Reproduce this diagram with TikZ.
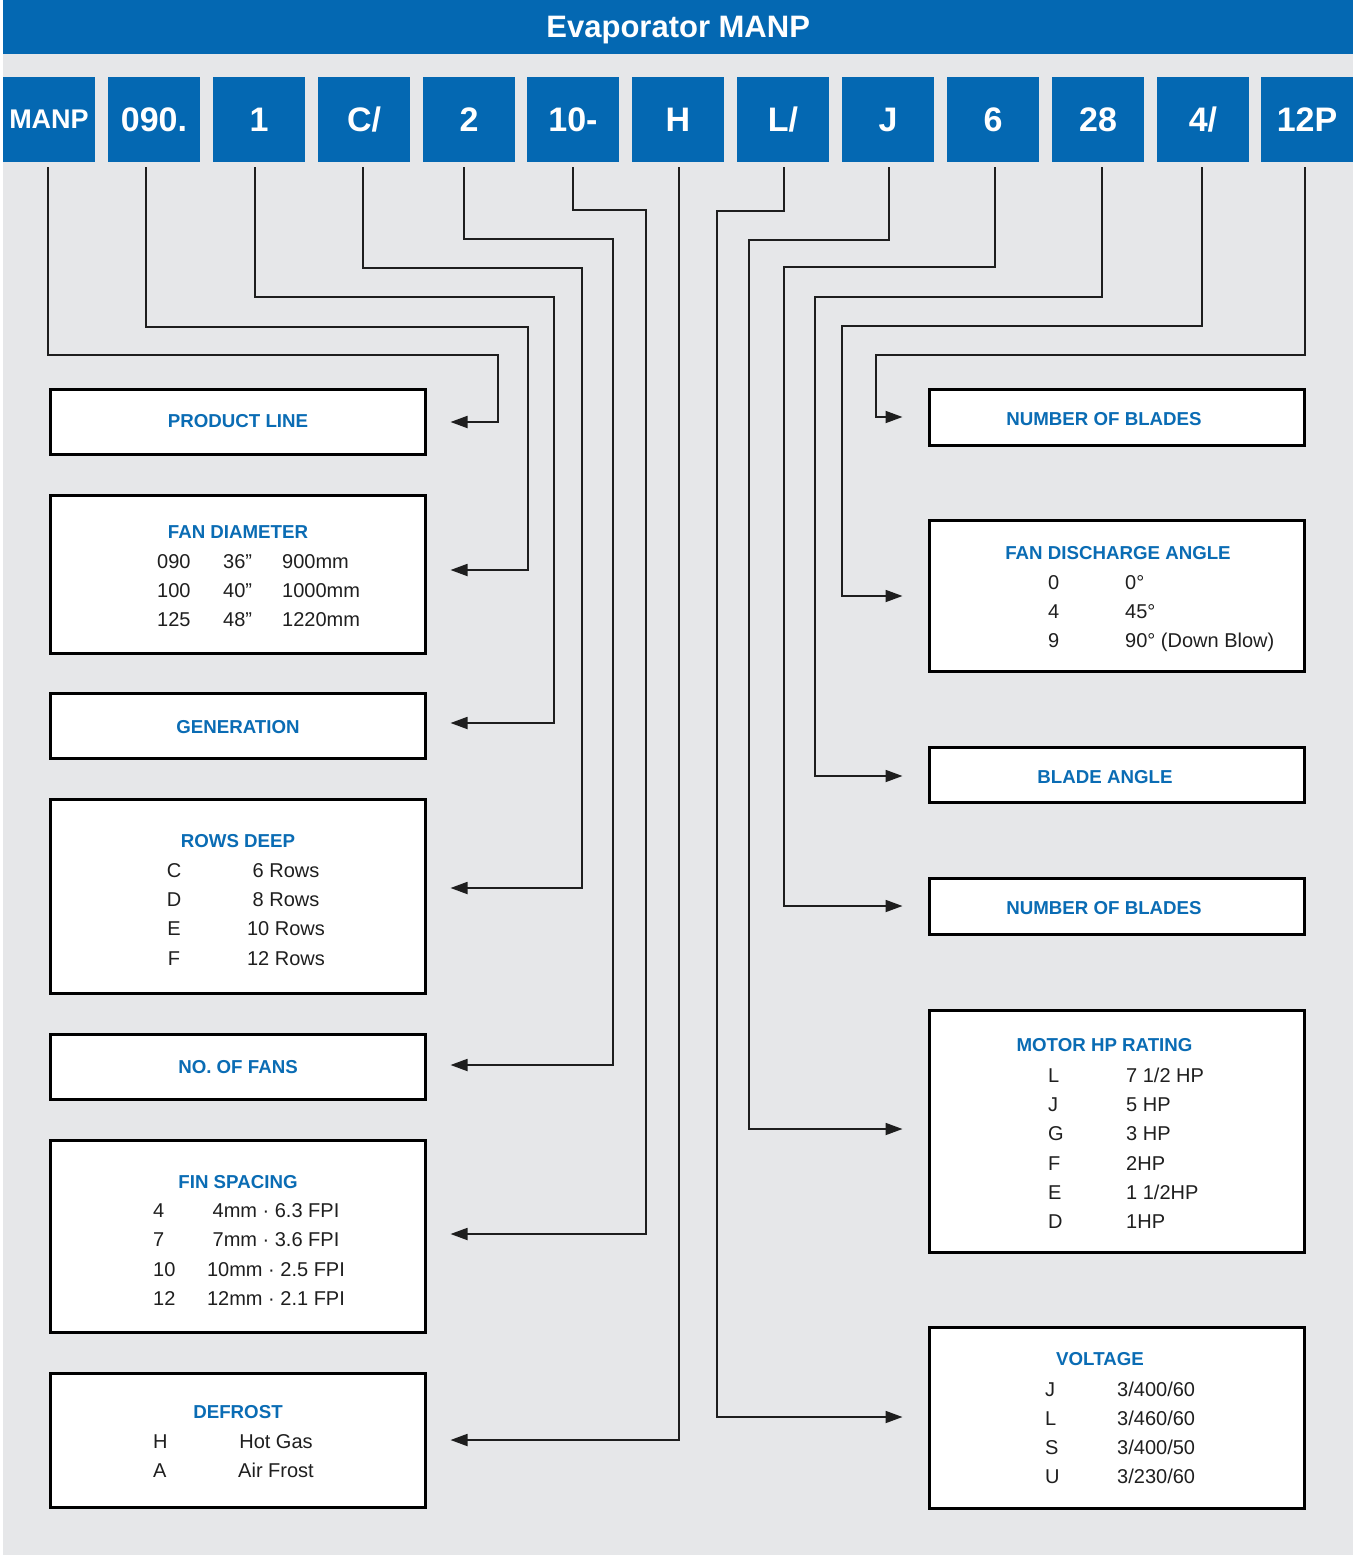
\documentclass[tikz,border=0pt]{standalone}
\usepackage{fontspec}
\setmainfont{Liberation Sans}
\usetikzlibrary{arrows.meta,calc}
\definecolor{hdrblue}{RGB}{4,104,178}
\definecolor{ttlblue}{RGB}{10,108,180}
\definecolor{bggray}{RGB}{230,231,233}
\definecolor{linek}{RGB}{30,30,30}
\begin{document}
\begin{tikzpicture}[x=1pt,y=-1pt,
  codebox/.style={fill=hdrblue, minimum width=92pt, minimum height=85pt, inner sep=0pt, text depth=0pt, text=white, font=\fontsize{34}{40}\selectfont\bfseries},
  descbox/.style={draw=black, line width=3pt, fill=white, inner sep=0pt, minimum width=375pt},
  ttl/.style={text=ttlblue, font=\fontsize{18.7}{22}\selectfont\bfseries, inner sep=0pt, anchor=base},
  txt/.style={text=black!88, font=\fontsize{20}{24}\selectfont, inner sep=0pt, anchor=base west},
  txtc/.style={txt, anchor=base},
  conn/.style={draw=linek, line width=1.8pt},
  arrL/.style={conn, -{Triangle[length=17pt,width=12pt]}, shorten >=23.5pt},
  arrR/.style={conn, -{Triangle[length=17pt,width=12pt]}, shorten >=25.5pt},
]
\useasboundingbox (0,0) rectangle (1353,1555);
\fill[white] (0,0) rectangle (1353,1555);
\fill[bggray] (3,0) rectangle (1353,1555);
\node[fill=hdrblue, minimum width=1350pt, minimum height=54pt, inner sep=0pt, text depth=0pt, anchor=north west, text=white, font=\fontsize{31}{36}\selectfont\bfseries] (hdr) at (3,0) {Evaporator MANP};

% code boxes
\node[codebox, font=\fontsize{27}{32}\selectfont\bfseries] (c1) at (49,119.5) {MANP};
\node[codebox] (c2) at (154,119.5) {090.};
\node[codebox] (c3) at (259,119.5) {1};
\node[codebox] (c4) at (364,119.5) {C/};
\node[codebox] (c5) at (469,119.5) {2};
\node[codebox] (c6) at (573,119.5) {10-};
\node[codebox] (c7) at (678,119.5) {H};
\node[codebox] (c8) at (783,119.5) {L/};
\node[codebox] (c9) at (888,119.5) {J};
\node[codebox] (c10) at (993,119.5) {6};
\node[codebox] (c11) at (1098,119.5) {28};
\node[codebox] (c12) at (1203,119.5) {4/};
\node[codebox] (c13) at (1307,119.5) {12P};

% left description boxes
\node[descbox, minimum height=65.5pt] (pl) at (238,422) {};
\node[descbox, minimum height=158pt] (fd) at (238,574.5) {};
\node[descbox, minimum height=65pt] (gen) at (238,726) {};
\node[descbox, minimum height=194pt] (rd) at (238,896.5) {};
\node[descbox, minimum height=65pt] (nf) at (238,1067) {};
\node[descbox, minimum height=192pt] (fs) at (238,1236.5) {};
\node[descbox, minimum height=134pt] (df) at (238,1440.5) {};
% right description boxes
\node[descbox, minimum height=56pt] (nob1) at (1117,417.5) {};
\node[descbox, minimum height=151pt] (fda) at (1117,596) {};
\node[descbox, minimum height=55pt] (ba) at (1117,775) {};
\node[descbox, minimum height=56pt] (nob2) at (1117,906.5) {};
\node[descbox, minimum height=242pt] (mhp) at (1117,1131.5) {};
\node[descbox, minimum height=181pt] (volt) at (1117,1418) {};

% texts left
\node[ttl] (t-pl) at (238,427) {PRODUCT LINE};
\node[ttl] (t-fd) at (238,538) {FAN DIAMETER};
\node[txt] (fd1a) at (157,568) {090};
\node[txt] (fd1b) at (223,568) {36”};
\node[txt] (fd1c) at (282,568) {900mm};
\node[txt] (fd2a) at (157,597) {100};
\node[txt] (fd2b) at (223,597) {40”};
\node[txt] (fd2c) at (282,597) {1000mm};
\node[txt] (fd3a) at (157,626) {125};
\node[txt] (fd3b) at (223,626) {48”};
\node[txt] (fd3c) at (282,626) {1220mm};
\node[ttl] (t-gen) at (238,733) {GENERATION};
\node[ttl] (t-rd) at (238,847) {ROWS DEEP};
\node[txtc] (rd1a) at (174,877) {C};
\node[txtc] (rd1b) at (286,877) {6 Rows};
\node[txtc] (rd2a) at (174,906) {D};
\node[txtc] (rd2b) at (286,906) {8 Rows};
\node[txtc] (rd3a) at (174,935.5) {E};
\node[txtc] (rd3b) at (286,935.5) {10 Rows};
\node[txtc] (rd4a) at (174,965) {F};
\node[txtc] (rd4b) at (286,965) {12 Rows};
\node[ttl] (t-nf) at (238,1073) {NO. OF FANS};
\node[ttl] (t-fs) at (238,1188) {FIN SPACING};
\node[txt] (fs1a) at (153,1217) {4};
\node[txtc] (fs1b) at (276,1217) {4mm · 6.3 FPI};
\node[txt] (fs2a) at (153,1246.5) {7};
\node[txtc] (fs2b) at (276,1246.5) {7mm · 3.6 FPI};
\node[txt] (fs3a) at (153,1276) {10};
\node[txtc] (fs3b) at (276,1276) {10mm · 2.5 FPI};
\node[txt] (fs4a) at (153,1305) {12};
\node[txtc] (fs4b) at (276,1305) {12mm · 2.1 FPI};
\node[ttl] (t-df) at (238,1418) {DEFROST};
\node[txt] (df1a) at (153,1448) {H};
\node[txtc] (df1b) at (276,1448) {Hot Gas};
\node[txt] (df2a) at (153,1477) {A};
\node[txtc] (df2b) at (276,1477) {Air Frost};

% texts right
\node[ttl] (t-nob1) at (1104,425) {NUMBER OF BLADES};
\node[ttl] (t-fda) at (1118,559) {FAN DISCHARGE ANGLE};
\node[txt] (fda1a) at (1048,589) {0};
\node[txt] (fda1b) at (1125,589) {0°};
\node[txt] (fda2a) at (1048,618) {4};
\node[txt] (fda2b) at (1125,618) {45°};
\node[txt] (fda3a) at (1048,647) {9};
\node[txt] (fda3b) at (1125,647) {90° (Down Blow)};
\node[ttl] (t-ba) at (1105,783) {BLADE ANGLE};
\node[ttl] (t-nob2) at (1104,914) {NUMBER OF BLADES};
\node[ttl] (t-mhp) at (1104.5,1051) {MOTOR HP RATING};
\node[txt] (m1a) at (1048,1082) {L};
\node[txt] (m1b) at (1126,1082) {7 1/2 HP};
\node[txt] (m2a) at (1048,1111.3) {J};
\node[txt] (m2b) at (1126,1111.3) {5 HP};
\node[txt] (m3a) at (1048,1140.6) {G};
\node[txt] (m3b) at (1126,1140.6) {3 HP};
\node[txt] (m4a) at (1048,1170) {F};
\node[txt] (m4b) at (1126,1170) {2HP};
\node[txt] (m5a) at (1048,1199.2) {E};
\node[txt] (m5b) at (1126,1199.2) {1 1/2HP};
\node[txt] (m6a) at (1048,1228.5) {D};
\node[txt] (m6b) at (1126,1228.5) {1HP};
\node[ttl] (t-volt) at (1100,1365) {VOLTAGE};
\node[txt] (v1a) at (1045,1396) {J};
\node[txt] (v1b) at (1117,1396) {3/400/60};
\node[txt] (v2a) at (1045,1425) {L};
\node[txt] (v2b) at (1117,1425) {3/460/60};
\node[txt] (v3a) at (1045,1454) {S};
\node[txt] (v3b) at (1117,1454) {3/400/50};
\node[txt] (v4a) at (1045,1483) {U};
\node[txt] (v4b) at (1117,1483) {3/230/60};

% connectors
\draw[arrL] ($(c1.south)+(-1,5)$) |- (498,355) |- (pl.east);
\draw[arrL] ($(c2.south)+(-8,5)$) |- (528,327) |- (fd.east |- 0,570);
\draw[arrL] ($(c3.south)+(-4,5)$) |- (554,297) |- (gen.east |- 0,723);
\draw[arrL] ($(c4.south)+(-1,5)$) |- (582,268) |- (rd.east |- 0,888);
\draw[arrL] ($(c5.south)+(-5,5)$) |- (613,239) |- (nf.east |- 0,1065);
\draw[arrL] ($(c6.south)+(0,5)$) |- (646,210) |- (fs.east |- 0,1234);
\draw[arrL] ($(c7.south)+(1,5)$) |- (df.east |- 0,1440);
\draw[arrR] ($(c8.south)+(1,5)$) |- (717,211) |- (volt.west |- 0,1417);
\draw[arrR] ($(c9.south)+(1,5)$) |- (749,240) |- (mhp.west |- 0,1129);
\draw[arrR] ($(c10.south)+(2,5)$) |- (784,267) |- (nob2.west |- 0,906);
\draw[arrR] ($(c11.south)+(4,5)$) |- (815,297) |- (ba.west |- 0,776);
\draw[arrR] ($(c12.south)+(-1,5)$) |- (842,326) |- (fda.west |- 0,596);
\draw[arrR] ($(c13.south)+(-2,5)$) |- (876,355) |- (nob1.west |- 0,417);
\end{tikzpicture}
\end{document}
